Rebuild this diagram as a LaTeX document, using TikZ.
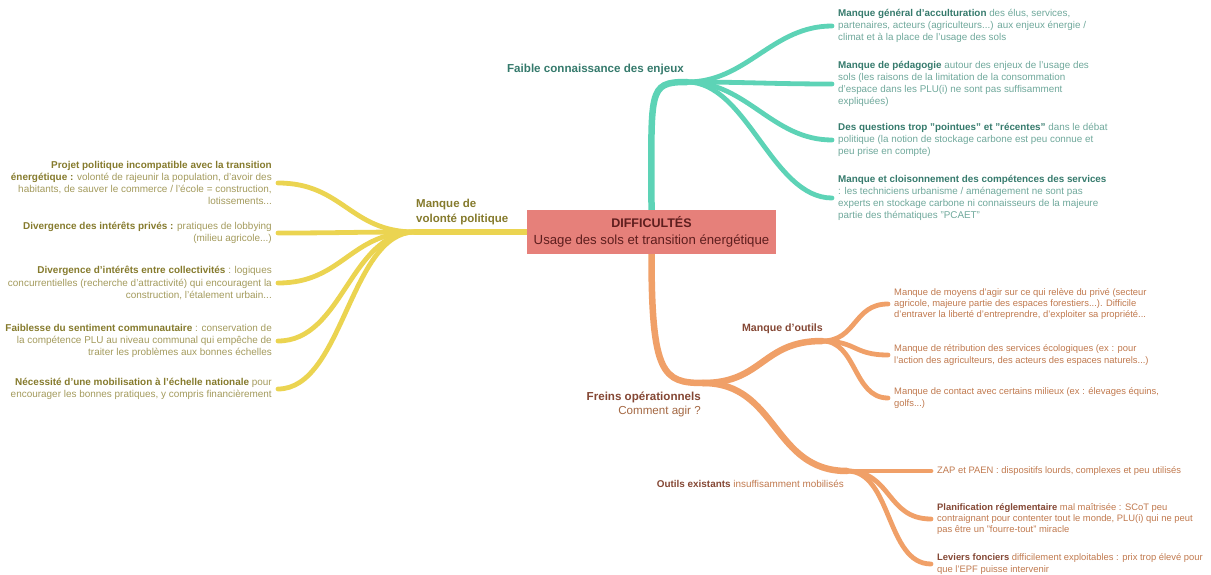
\documentclass[tikz,border=0pt]{standalone}
\usepackage{fontspec}
\setmainfont{Liberation Sans}
\usetikzlibrary{backgrounds}

% branch colours
\definecolor{tealline}{HTML}{5DD3B6}
\definecolor{tealdark}{HTML}{357A6C}
\definecolor{tealtext}{HTML}{6FA89B}
\definecolor{yelline}{HTML}{EBD451}
\definecolor{yeldark}{HTML}{857A2C}
\definecolor{yeltext}{HTML}{A39A5C}
\definecolor{oraline}{HTML}{F0A068}
\definecolor{oradark}{HTML}{844734}
\definecolor{oratext}{HTML}{C0794E}
\definecolor{corefill}{HTML}{E6807A}
\definecolor{coretext}{HTML}{5E1E1E}

% bold lead-ins of the leaf texts
\newcommand\TealB[1]{{\bfseries\color{tealdark}#1}}
\newcommand\YelB[1]{{\bfseries\color{yeldark}#1}}
\newcommand\OraB[1]{{\bfseries\color{oradark}#1}}

\begin{document}
\begin{tikzpicture}[x=1pt,y=-1pt,
  core/.style={fill=corefill, minimum width=249pt, minimum height=44pt,
    inner sep=0pt, align=center, text=coretext, font=\fontsize{13.2}{17}\selectfont},
  tleaf/.style={anchor=west, align=left, inner ysep=0pt, inner xsep=6pt,
    text=tealtext, font=\fontsize{9.85}{12}\selectfont},
  yleaf/.style={anchor=east, align=right, inner ysep=0pt, inner xsep=6pt,
    text=yeltext, font=\fontsize{9.95}{12.2}\selectfont},
  oleaf/.style={anchor=west, align=left, inner ysep=0pt, inner xsep=6pt,
    text=oratext, font=\fontsize{9.4}{11.4}\selectfont},
  tbranch/.style={draw=tealline, line width=6.5pt, line cap=round},
  tfan/.style={draw=tealline, line width=4.8pt, line cap=round},
  ybranch/.style={draw=yelline, line width=6.5pt, line cap=round},
  yfan/.style={draw=yelline, line width=4.8pt, line cap=round},
  obranch/.style={draw=oraline, line width=6.5pt, line cap=round},
  ofan/.style={draw=oraline, line width=4.8pt, line cap=round},
]
\useasboundingbox (0,0) rectangle (1211,575);

% central topic
\node[core] (c) at (651.5,232) {{\bfseries\fontsize{12.5}{17}\selectfont DIFFICULTÉS}\\Usage des sols et transition énergétique};

% junction points
\coordinate (jt) at (687,82);
\coordinate (jy) at (415,232);
\coordinate (jo) at (703,383);
\coordinate (jm) at (822,341);
\coordinate (je) at (847,471);

% branch labels
\node[anchor=east, inner sep=2pt, text=tealdark, font=\bfseries\fontsize{11.6}{13}\selectfont]
  (lt) at (686,70) {Faible connaissance des enjeux};
\node[anchor=west, align=left, inner sep=2pt, text=yeldark, font=\bfseries\fontsize{11.5}{14.5}\selectfont]
  (ly) at (414,212) {Manque de\\volonté politique};
\node[anchor=north east, align=right, inner sep=2pt, text=oradark, font=\fontsize{11.6}{13.5}\selectfont]
  (lo) at (703,390) {\bfseries Freins opérationnels\\{\color{oratext!85!black}Comment agir ?}};
\node[anchor=east, inner sep=2pt, text=oradark, font=\bfseries\fontsize{10.6}{12}\selectfont]
  (lm) at (825,329) {Manque d'outils};
\node[anchor=east, inner sep=2pt, text=oratext, font=\fontsize{9.9}{12}\selectfont]
  (le) at (846,484) {\OraB{Outils existants} insuffisamment mobilisés};

% knowledge leaves
\node[tleaf] (t1) at (832,26) {\TealB{Manque général d'acculturation} des élus, services,\\partenaires, acteurs (agriculteurs...) aux enjeux énergie /\\climat et à la place de l'usage des sols};
\node[tleaf] (t2) at (832,84) {\TealB{Manque de pédagogie} autour des enjeux de l'usage des\\sols (les raisons de la limitation de la consommation\\d'espace dans les PLU(i) ne sont pas suffisamment\\expliquées)};
\node[tleaf] (t3) at (832,140) {\TealB{Des questions trop "pointues" et "récentes"} dans le débat\\politique (la notion de stockage carbone est peu connue et\\peu prise en compte)};
\node[tleaf] (t4) at (832,198) {\TealB{Manque et cloisonnement des compétences des services}\\: les techniciens urbanisme / aménagement ne sont pas\\experts en stockage carbone ni connaisseurs de la majeure\\partie des thématiques "PCAET"};

% political-will leaves
\node[yleaf] (y1) at (278,183) {\YelB{Projet politique incompatible avec la transition}\\\YelB{énergétique :} volonté de rajeunir la population, d'avoir des\\habitants, de sauver le commerce / l'école = construction,\\lotissements...};
\node[yleaf] (y2) at (278,233) {\YelB{Divergence des intérêts privés :} pratiques de lobbying\\(milieu agricole...)};
\node[yleaf] (y3) at (278,283) {\YelB{Divergence d'intérêts entre collectivités} : logiques\\concurrentielles (recherche d'attractivité) qui encouragent la\\construction, l'étalement urbain...};
\node[yleaf] (y4) at (278,341) {\YelB{Faiblesse du sentiment communautaire} : conservation de\\la compétence PLU au niveau communal qui empêche de\\traiter les problèmes aux bonnes échelles};
\node[yleaf] (y5) at (278,389) {\YelB{Nécessité d'une mobilisation à l'échelle nationale} pour\\encourager les bonnes pratiques, y compris financièrement};

% missing-tools leaves
\node[oleaf] (o1) at (888,304) {Manque de moyens d'agir sur ce qui relève du privé (secteur\\agricole, majeure partie des espaces forestiers...). Difficile\\d'entraver la liberté d'entreprendre, d'exploiter sa propriété...};
\node[oleaf] (o2) at (888,355) {Manque de rétribution des services écologiques (ex : pour\\l'action des agriculteurs, des acteurs des espaces naturels...)};
\node[oleaf] (o3) at (888,398) {Manque de contact avec certains milieux (ex : élevages équins,\\golfs...)};

% existing-tools leaves
\node[oleaf] (e1) at (931,471) {ZAP et PAEN : dispositifs lourds, complexes et peu utilisés};
\node[oleaf] (e2) at (931,519) {\OraB{Planification réglementaire} mal maîtrisée : SCoT peu\\contraignant pour contenter tout le monde, PLU(i) qui ne peut\\pas être un "fourre-tout" miracle};
\node[oleaf] (e3) at (931,564) {\OraB{Leviers fonciers} difficilement exploitables : prix trop élevé pour\\que l'EPF puisse intervenir};

\begin{scope}[on background layer]
  % knowledge branch
  \draw[tbranch] (c.north) .. controls +(0,-120) and +(-40,0) .. (jt);
  \foreach \n in {t1,t2,t3,t4}
    \draw[tfan] (jt) .. controls +(60,0) and +(-60,0) .. (\n.west);
  % political-will branch
  \draw[ybranch] (c.west) -- (jy);
  \foreach \n in {y1,y2,y3,y4,y5}
    \draw[yfan] (jy) .. controls +(-65,0) and +(65,0) .. (\n.east);
  % operational branch
  \draw[obranch] (c.south) .. controls +(0,120) and +(-40,0) .. (jo);
  \draw[obranch] (jo) .. controls +(60,0) and +(-60,0) .. (jm);
  \draw[obranch] (jo) .. controls +(75,0) and +(-75,0) .. (je);
  \foreach \n in {o1,o2,o3}
    \draw[ofan] (jm) .. controls +(35,0) and +(-35,0) .. (\n.west);
  \foreach \n in {e1,e2,e3}
    \draw[ofan] (je) .. controls +(45,0) and +(-45,0) .. (\n.west);
\end{scope}
\end{tikzpicture}
\end{document}
